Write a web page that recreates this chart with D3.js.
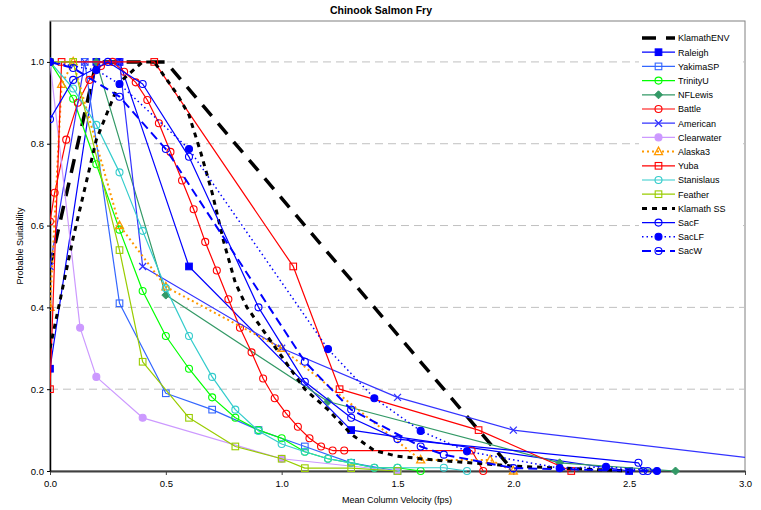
<!DOCTYPE html>
<html><head><meta charset="utf-8">
<script src="https://cdn.jsdelivr.net/npm/d3@7"></script>
<style>body{margin:0;background:#fff}svg{display:block;font-family:"Liberation Sans",Arial,sans-serif}</style>
</head><body><svg id="c" width="761" height="510"></svg>
<script>
// ---- data (velocity fps, probable suitability) ----
const klamathENV = [[0,0.5],[0.2,1],[0.5,1],[2.0,0]];
const raleigh = [[0,0.25],[0.2,1],[0.3,1],[0.6,0.5],[1.3,0.1],[2.5,0]];
const yakimaSP = [[0,1],[0.15,1],[0.3,0.41],[0.5,0.19],[0.7,0.15],[0.9,0.1],[1.1,0.06],[1.3,0.02],[1.5,0]];
const trinityU = [[0,1],[0.1,0.91],[0.2,0.75],[0.3,0.59],[0.4,0.44],[0.5,0.33],[0.6,0.25],[0.7,0.18],[0.8,0.13],[0.9,0.1],[1.0,0.08],[1.1,0.047],[1.2,0.03],[1.3,0.02],[1.4,0.008],[1.5,0.008],[1.6,0]];
const nfLewis = [[0.2,1],[0.5,0.43],[1.2,0.17],[2.2,0.02],[2.7,0]];
const battle = [[0,0.61],[0.02,0.68],[0.07,0.81],[0.12,0.9],[0.17,0.956],[0.22,0.99],[0.27,1],[0.32,0.976],[0.37,0.95],[0.42,0.907],[0.47,0.85],[0.52,0.78],[0.57,0.71],[0.62,0.64],[0.67,0.56],[0.72,0.49],[0.77,0.42],[0.82,0.35],[0.87,0.29],[0.92,0.226],[0.97,0.178],[1.02,0.14],[1.07,0.108],[1.12,0.08],[1.17,0.06],[1.22,0.05],[1.27,0.05],[1.82,0.05],[1.87,0]];
const american = [[0,0.5],[0.15,1],[0.3,1],[0.4,0.5],[1.0,0.3],[1.5,0.18],[2.0,0.1],[3.5,0]];
const clearwater = [[0,1],[0.13,0.35],[0.2,0.23],[0.4,0.13],[1.0,0.03],[1.5,0]];
const alaska3 = [[0,0.4],[0.05,0.945],[0.1,1],[0.3,0.6],[0.5,0.45],[1.0,0.3],[1.6,0.027],[1.9,0.027],[2.0,0]];
const yuba = [[0,0.2],[0.05,1],[0.45,1],[1.05,0.5],[1.25,0.2],[1.85,0.1],[2.25,0]];
const stanislaus = [[0,1],[0.1,0.935],[0.2,0.846],[0.3,0.73],[0.4,0.587],[0.5,0.447],[0.6,0.33],[0.7,0.23],[0.8,0.15],[0.9,0.098],[1.0,0.066],[1.1,0.047],[1.2,0.03],[1.3,0.02],[1.4,0.008],[1.5,0.008],[1.7,0.008],[1.8,0]];
const feather = [[0,1],[0.1,1],[0.3,0.54],[0.4,0.267],[0.6,0.13],[0.8,0.06],[1.0,0.03],[1.1,0.007],[1.3,0.007],[1.5,0]];
const klamathSS = [[0,0.3],[0.1,0.57],[0.2,0.81],[0.3,0.95],[0.4,1],[0.45,1],[0.5,0.96],[0.55,0.92],[0.6,0.87],[0.65,0.78],[0.7,0.68],[0.75,0.56],[0.8,0.46],[0.85,0.4],[0.9,0.36],[0.95,0.32],[1.0,0.28],[1.05,0.24],[1.1,0.2],[1.2,0.15],[1.3,0.09],[1.4,0.05],[1.5,0.036],[1.6,0.03],[1.7,0.025],[2.0,0.012],[2.5,0]];
const sacF = [[0,0.86],[0.1,0.956],[0.25,1],[0.4,0.946],[0.6,0.768],[0.9,0.4],[1.1,0.218],[1.3,0.13],[1.5,0.078],[2.54,0.02],[2.56,0]];
const sacLF = [[0,1],[0.2,0.98],[0.3,0.946],[0.6,0.787],[1.2,0.298],[1.4,0.178],[1.6,0.098],[1.8,0.048],[2.2,0.007],[2.4,0.01],[2.62,0]];
const sacW = [[0,1],[0.1,0.985],[0.3,0.915],[0.5,0.787],[1.1,0.267],[1.3,0.15],[1.6,0.06],[1.7,0.04],[2.0,0.007],[2.58,0]];

const xTicks = [0,0.5,1.0,1.5,2.0,2.5,3.0];
const yTicks = [0,0.2,0.4,0.6,0.8,1.0];
const title = "Chinook Salmon Fry";
const xTitle = "Mean Column Velocity (fps)";
const yTitle = "Probable Suitability";

const series = [
 {name:"KlamathENV", data:klamathENV, color:"#000", width:3.5, dash:"14,10", marker:null},
 {name:"Raleigh", data:raleigh, color:"#0000ff", width:1.2, dash:null, marker:"square", fill:true},
 {name:"YakimaSP", data:yakimaSP, color:"#3366ff", width:1.2, dash:null, marker:"square", fill:false},
 {name:"TrinityU", data:trinityU, color:"#00ff00", width:1.2, dash:null, marker:"circle", fill:false},
 {name:"NFLewis", data:nfLewis, color:"#339966", width:1.2, dash:null, marker:"diamond", fill:true},
 {name:"Battle", data:battle, color:"#ff0000", width:1.2, dash:null, marker:"circle", fill:false},
 {name:"American", data:american, color:"#3333ff", width:1.2, dash:null, marker:"x", fill:false},
 {name:"Clearwater", data:clearwater, color:"#cc99ff", width:1.2, dash:null, marker:"circle", fill:true},
 {name:"Alaska3", data:alaska3, color:"#ff9900", width:2, dash:"2,3", marker:"triangle", fill:false},
 {name:"Yuba", data:yuba, color:"#ff0000", width:1.2, dash:null, marker:"square", fill:false},
 {name:"Stanislaus", data:stanislaus, color:"#33cccc", width:1.2, dash:null, marker:"circle", fill:false},
 {name:"Feather", data:feather, color:"#99cc00", width:1.2, dash:null, marker:"square", fill:false},
 {name:"Klamath SS", data:klamathSS, color:"#000", width:3, dash:"5,5", marker:null},
 {name:"SacF", data:sacF, color:"#0000ff", width:1.2, dash:null, marker:"circle", fill:false},
 {name:"SacLF", data:sacLF, color:"#0000ff", width:1.5, dash:"1.5,3", marker:"circle", fill:true},
 {name:"SacW", data:sacW, color:"#0000ff", width:2, dash:"9,5", marker:"circle", fill:false}
];

const svg = d3.select("#c");
const L=50, R=745, T=21, B=471;
const x = d3.scaleLinear().domain([0,3]).range([L,R]);
const y = d3.scaleLinear().domain([0,1.1]).range([B,T]);

svg.append("defs").append("clipPath").attr("id","pc").append("rect")
  .attr("x",L).attr("y",T-5).attr("width",R-L).attr("height",B-T+10);

// plot border
svg.append("rect").attr("x",L).attr("y",T).attr("width",R-L).attr("height",B-T)
  .attr("fill","none").attr("stroke","#808080").attr("stroke-width",1);

// gridlines
svg.append("g").selectAll("line").data(yTicks.filter(d=>d>0)).join("line")
  .attr("x1",L).attr("x2",R).attr("y1",d=>y(d)).attr("y2",d=>y(d))
  .attr("stroke","#c0c0c0").attr("stroke-width",1).attr("stroke-dasharray","8,5");

// axes
const xa = svg.append("g").attr("transform",`translate(0,${B})`)
  .call(d3.axisBottom(x).tickValues(xTicks).tickFormat(d3.format(".1f")).tickSize(4).tickSizeOuter(0));
xa.select(".domain").attr("stroke","#404040").attr("stroke-width",2);
xa.selectAll(".tick line").attr("stroke","#404040");
xa.selectAll("text").attr("font-size",9.5).attr("fill","#000").attr("dy","0.9em").attr("font-family","Liberation Sans, Arial");

const ya = svg.append("g").attr("transform",`translate(${L},0)`)
  .call(d3.axisLeft(y).tickValues(yTicks).tickFormat(d3.format(".1f")).tickSize(3).tickSizeOuter(0));
ya.select(".domain").attr("stroke","#000").attr("stroke-width",1.5);
ya.selectAll(".tick line").attr("stroke","#000");
ya.selectAll("text").attr("font-size",9.5).attr("fill","#000").attr("x",-6).attr("font-family","Liberation Sans, Arial");

// marker drawing
function drawMarker(g, type, color, fill, cx, cy){
  const fc = fill ? color : "none";
  if(type==="circle") g.append("circle").attr("cx",cx).attr("cy",cy).attr("r",3.5).attr("fill",fc).attr("stroke",color).attr("stroke-width",1.1);
  else if(type==="square") g.append("rect").attr("x",cx-3.3).attr("y",cy-3.3).attr("width",6.6).attr("height",6.6).attr("fill",fc).attr("stroke",color).attr("stroke-width",1.1);
  else if(type==="diamond") g.append("path").attr("d",`M${cx},${cy-4}L${cx+4},${cy}L${cx},${cy+4}L${cx-4},${cy}Z`).attr("fill",fc).attr("stroke",color);
  else if(type==="triangle") g.append("path").attr("d",`M${cx},${cy-4.5}L${cx+4},${cy+3}L${cx-4},${cy+3}Z`).attr("fill","none").attr("stroke",color).attr("stroke-width",1.3);
  else if(type==="x") g.append("path").attr("d",`M${cx-3.5},${cy-3.5}L${cx+3.5},${cy+3.5}M${cx-3.5},${cy+3.5}L${cx+3.5},${cy-3.5}`).attr("stroke",color).attr("stroke-width",1.3);
}

const line = d3.line().x(d=>x(d[0])).y(d=>y(d[1]));
const plot = svg.append("g").attr("clip-path","url(#pc)");
series.forEach(s=>{
  const g = plot.append("g");
  g.append("path").attr("d",line(s.data)).attr("fill","none").attr("stroke",s.color)
    .attr("stroke-width",s.width).attr("stroke-dasharray",s.dash||null).attr("stroke-linejoin","round");
  if(s.marker) s.data.forEach(d=>drawMarker(g,s.marker,s.color,s.fill,x(d[0]),y(d[1])));
});

// legend
const lg = svg.append("g");
lg.append("rect").attr("x",639).attr("y",28).attr("width",104).attr("height",232).attr("fill","#fff");
series.forEach((s,i)=>{
  const yy = 38 + i*14.2;
  lg.append("line").attr("x1",642).attr("x2",675).attr("y1",yy).attr("y2",yy)
    .attr("stroke",s.color).attr("stroke-width",s.width).attr("stroke-dasharray",s.dash||null);
  if(s.marker) drawMarker(lg,s.marker,s.color,s.fill,658.5,yy);
  lg.append("text").attr("x",678).attr("y",yy+3.3).attr("font-size",9).text(s.name);
});

// titles
svg.append("text").attr("x",381).attr("y",14).attr("text-anchor","middle").attr("font-size",10.5).attr("font-weight","bold").text(title);
svg.append("text").attr("x",397).attr("y",503).attr("text-anchor","middle").attr("font-size",9).text(xTitle);
svg.append("text").attr("transform","translate(23,246) rotate(-90)").attr("text-anchor","middle").attr("font-size",9).text(yTitle);
</script></body></html>
